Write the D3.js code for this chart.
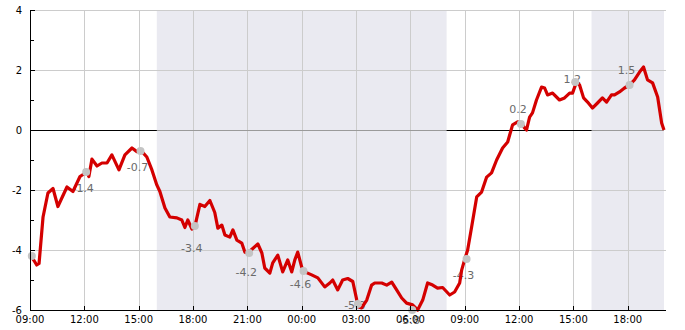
<!DOCTYPE html>
<html>
<head>
<meta charset="utf-8">
<script src="https://cdn.jsdelivr.net/npm/d3@7/dist/d3.min.js"></script>
<style>
  html, body { margin: 0; padding: 0; background: #fff; }
  svg { display: block; font-family: "DejaVu Sans", sans-serif; }
</style>
</head>
<body>
<svg id="chart" width="685" height="330"></svg>
<script>
// ---- data ----
const startTime = new Date(2024, 0, 1, 9, 0);   // 09:00 day 1
const totalHours = 35;                           // ends 20:00 day 2

const hours = [0.05, 0.22, 0.37, 0.50, 0.72, 0.99, 1.27, 1.54, 2.04, 2.37, 2.76, 3.14, 3.25, 3.42, 3.70, 3.97,
  4.25, 4.52, 4.91, 5.24, 5.63, 5.90, 6.18, 6.45, 6.73, 7.00, 7.17, 7.45, 7.72, 8.11, 8.38, 8.55, 8.71, 8.94,
  9.10, 9.38, 9.65, 9.93, 10.20, 10.37, 10.59, 10.76, 11.03, 11.20, 11.42, 11.69, 11.86, 12.02, 12.30, 12.58,
  12.80, 12.96, 13.24, 13.40, 13.68, 13.95, 14.23, 14.45, 14.62, 14.78, 15.00, 15.17, 15.55, 15.89, 16.27,
  16.55, 16.71, 16.99, 17.26, 17.54, 17.82, 18.04, 18.15, 18.31, 18.59, 18.86, 19.03, 19.42, 19.69, 19.97,
  20.24, 20.52, 20.79, 21.12, 21.40, 21.68, 21.95, 22.23, 22.50, 22.78, 23.17, 23.44, 23.72, 23.83, 23.99,
  24.16, 24.38, 24.66, 24.93, 25.21, 25.48, 25.76, 26.09, 26.37, 26.64, 26.92, 27.14, 27.30, 27.41, 27.58,
  27.74, 27.96, 28.24, 28.41, 28.57, 28.85, 29.23, 29.51, 29.79, 29.95, 30.17, 30.34, 30.56, 30.78, 31.05,
  31.33, 31.60, 31.83, 32.10, 32.27, 32.54, 32.82, 33.10, 33.37, 33.65, 33.87, 34.09, 34.37, 34.65, 34.87, 35.0];

const values = [-4.2, -4.35, -4.5, -4.45, -2.9, -2.1, -1.95, -2.55, -1.9, -2.05, -1.55, -1.4, -1.55, -0.97, -1.2, -1.1,
  -1.1, -0.83, -1.33, -0.83, -0.6, -0.72, -0.72, -0.9, -1.33, -1.83, -2.05, -2.6, -2.9, -2.93, -3.0, -3.25, -3.0, -3.3,
  -3.22, -2.48, -2.55, -2.35, -2.75, -3.27, -3.17, -3.5, -3.57, -3.33, -3.67, -3.77, -4.07, -4.1, -3.95, -3.8,
  -4.1, -4.6, -4.77, -4.43, -4.17, -4.73, -4.33, -4.73, -4.33, -4.07, -4.57, -4.73, -4.83, -4.93, -5.23,
  -5.1, -5.0, -5.33, -5.0, -4.95, -5.05, -5.67, -5.9, -5.93, -5.67, -5.17, -5.1, -5.1, -5.17, -5.07,
  -5.33, -5.6, -5.77, -5.83, -6.0, -5.67, -5.1, -5.17, -5.27, -5.25, -5.5, -5.4, -5.1, -4.67, -4.33,
  -4.0, -3.23, -2.23, -2.07, -1.57, -1.43, -1.0, -0.6, -0.4, 0.17, 0.27, 0.23, 0.07, 0.0, 0.43,
  0.57, 1.0, 1.43, 1.4, 1.17, 1.23, 1.0, 1.07, 1.23, 1.23, 1.6, 1.5, 1.07, 0.93, 0.73,
  0.9, 1.07, 0.93, 1.17, 1.17, 1.27, 1.4, 1.5, 1.67, 1.93, 2.1, 1.67, 1.57, 1.1, 0.23, 0.0];

const markerHours  = [0.1, 3.1, 6.1, 9.1, 12.1, 15.1, 18.1, 21.1, 24.1, 27.1, 30.1, 33.1];
const markerValues = [-4.2, -1.4, -0.7, -3.2, -4.1, -4.7, -5.8, -6.0, -4.3, 0.2, 1.6, 1.5];
const labelValues  = [null, -1.4, -0.7, -3.4, -4.2, -4.6, -5.3, -5.8, -4.3, 0.2, 1.2, 1.5];

const shadeRanges = [[7, 23], [31, 35]];   // hours from start
const yTicks = [-6, -4, -2, 0, 2, 4];
const yMinorTicks = [-5, -3, -1, 1, 3];
const xTickEvery = 3;

// ---- layout ----
const W = 685, H = 330;
const margin = { left: 30, right: 21, top: 10, bottom: 20 };
const svg = d3.select("#chart");
const toDate = h => new Date(startTime.getTime() + h * 3600e3);

const x = d3.scaleTime()
  .domain([startTime, toDate(totalHours)])
  .range([margin.left, W - margin.right]);
const y = d3.scaleLinear()
  .domain([-6, 4])
  .range([H - margin.bottom, margin.top]);

const x0 = margin.left, x1 = W - margin.right;
const y0 = H - margin.bottom, y1 = margin.top;

// shading
svg.append("g").selectAll("rect").data(shadeRanges).join("rect")
  .attr("x", d => x(toDate(d[0])))
  .attr("width", d => x(toDate(d[1])) - x(toDate(d[0])))
  .attr("y", y1).attr("height", y0 - y1)
  .attr("fill", "#eaeaf1");

// grid
const xTickDates = d3.range(0, totalHours + 0.001, xTickEvery).map(toDate);
const grid = svg.append("g").attr("stroke", "#cccccc").attr("stroke-width", 1);
grid.selectAll(".gx").data(xTickDates.slice(1)).join("line")
  .attr("x1", d => Math.round(x(d)) + 0.5).attr("x2", d => Math.round(x(d)) + 0.5)
  .attr("y1", y1).attr("y2", y0);
grid.selectAll(".gy").data(yTicks.filter(v => v !== 0 && v !== -6)).join("line")
  .attr("x1", x0).attr("x2", x1 + 2)
  .attr("y1", d => Math.round(y(d)) + 0.5).attr("y2", d => Math.round(y(d)) + 0.5);

// zero line: black outside shaded areas, grey inside
const zeroY = Math.round(y(0)) + 0.5;
svg.append("line").attr("x1", x0).attr("x2", x1).attr("y1", zeroY).attr("y2", zeroY)
  .attr("stroke", "#000").attr("stroke-width", 1);
svg.append("g").selectAll("line").data(shadeRanges).join("line")
  .attr("x1", d => x(toDate(d[0]))).attr("x2", d => x(toDate(d[1])))
  .attr("y1", zeroY).attr("y2", zeroY)
  .attr("stroke", "#9a9a9a").attr("stroke-width", 1);

// value labels (behind line)
const labelData = markerHours.map((h, i) => ({ h, v: labelValues[i] })).filter(d => d.v !== null);
svg.append("g").selectAll("text").data(labelData).join("text")
  .attr("x", d => x(toDate(d.h)) - 3)
  .attr("y", d => y(d.v) + (d.v < 0 ? 20 : -11))
  .attr("text-anchor", "middle")
  .attr("font-size", 11)
  .attr("fill", "#6a6a6a")
  .text(d => d3.format(".1f")(d.v).replace("−", "-"));

// line
const series = hours.map((h, i) => ({ t: toDate(h), v: values[i] }));
svg.append("path").datum(series)
  .attr("d", d3.line().x(d => x(d.t)).y(d => y(d.v)))
  .attr("fill", "none")
  .attr("stroke", "#d40000")
  .attr("stroke-width", 3.2)
  .attr("stroke-linejoin", "round");

// markers
svg.append("g").selectAll("circle").data(markerHours.map((h, i) => ({ t: toDate(h), v: markerValues[i] })))
  .join("circle")
  .attr("cx", d => x(d.t)).attr("cy", d => y(d.v)).attr("r", 4)
  .attr("fill", "#c4c4c4");

// axes
const axisG = svg.append("g").attr("font-size", 10).attr("fill", "#000");
axisG.append("line").attr("x1", x0 + 0.5).attr("x2", x0 + 0.5).attr("y1", y1).attr("y2", y0)
  .attr("stroke", "#000");
axisG.append("line").attr("x1", x0).attr("x2", x1 + 2).attr("y1", y0 + 0.5).attr("y2", y0 + 0.5)
  .attr("stroke", "#000");

// y ticks
axisG.selectAll(".ymaj").data(yTicks).join("line")
  .attr("x1", x0).attr("x2", x0 + 5)
  .attr("y1", d => Math.round(y(d)) + 0.5).attr("y2", d => Math.round(y(d)) + 0.5)
  .attr("stroke", "#000");
axisG.selectAll(".ymin").data(yMinorTicks).join("line")
  .attr("x1", x0).attr("x2", x0 + 4)
  .attr("y1", d => Math.round(y(d)) + 0.5).attr("y2", d => Math.round(y(d)) + 0.5)
  .attr("stroke", "#000");
axisG.selectAll(".ylab").data(yTicks).join("text")
  .attr("x", x0 - 8).attr("y", d => y(d)).attr("dy", "0.35em")
  .attr("text-anchor", "end")
  .text(d => String(d));

// x ticks
axisG.selectAll(".xt").data(xTickDates).join("line")
  .attr("x1", d => Math.round(x(d)) + 0.5).attr("x2", d => Math.round(x(d)) + 0.5)
  .attr("y1", y0 - 4).attr("y2", y0)
  .attr("stroke", "#000");
axisG.selectAll(".xlab").data(xTickDates).join("text")
  .attr("x", d => x(d)).attr("y", y0 + 13)
  .attr("text-anchor", "middle")
  .text(d => d3.timeFormat("%H:%M")(d));
</script>
</body>
</html>
